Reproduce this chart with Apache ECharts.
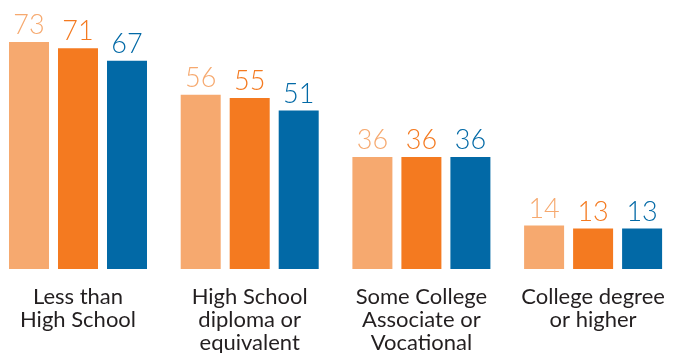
<!DOCTYPE html>
<html>
<head>
<meta charset="utf-8">
<script src="https://cdn.jsdelivr.net/npm/echarts@6/dist/echarts.min.js"></script>
<style>html,body{margin:0;padding:0;background:#fff}#c{width:674px;height:353px}</style>
</head>
<body>
<div id="c"></div>
<script>
const categories = ["Less than\nHigh School", "High School\ndiploma or\nequivalent", "Some College\nAssociate or\nVocational", "College degree\nor higher"];
const seriesA = [73, 56, 36, 14];
const seriesB = [71, 55, 36, 13];
const seriesC = [67, 51, 36, 13];
const colors = ["#F6A96F", "#F47A20", "#0269A6"];

const chart = echarts.init(document.getElementById('c'), null, {renderer: 'canvas'});
function mk(data, color) {
  return {
    type: 'bar',
    data: data,
    barWidth: 40,
    barGap: '22.5%',
    itemStyle: {color: color},
    label: {
      show: true, position: 'top', distance: 3,
      color: color, fontFamily: 'Lato', fontSize: 27, fontWeight: 300
    }
  };
}
chart.setOption({
  animation: false,
  grid: {left: -7.85, right: -4.95, top: 20.2, bottom: 84, containLabel: false, outerBoundsMode: 'none'},
  xAxis: {
    type: 'category', data: categories,
    axisLine: {show: false}, axisTick: {show: false},
    axisLabel: {color: '#231F20', fontFamily: 'Lato', fontSize: 22, lineHeight: 23, margin: 16, interval: 0, verticalAlign: 'top', hideOverlap: false}
  },
  yAxis: {type: 'value', min: 0, max: 80, show: false, splitLine: {show: false}},
  series: [mk(seriesA, colors[0]), mk(seriesB, colors[1]), mk(seriesC, colors[2])]
});
</script>
</body>
</html>
